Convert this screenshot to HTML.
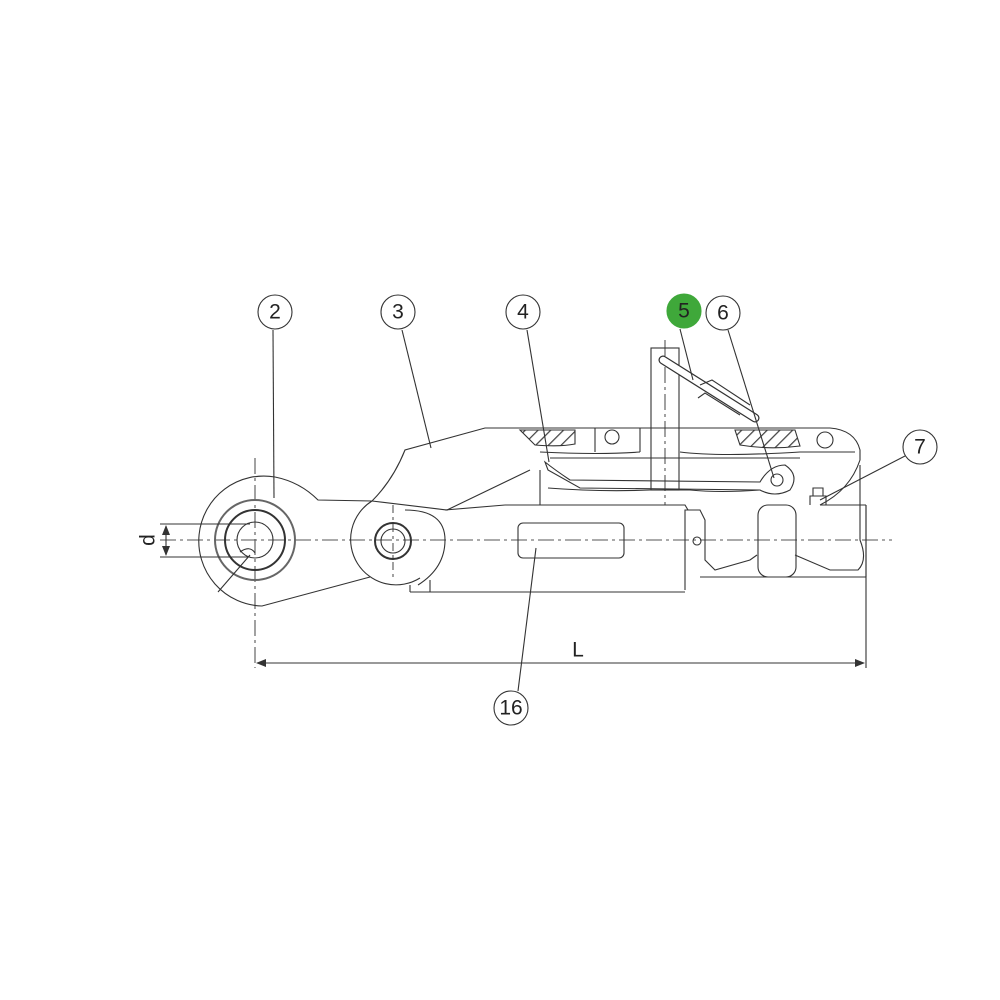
<!DOCTYPE html>
<html><head><meta charset="utf-8"><style>
html,body{margin:0;padding:0;background:#fff;}
svg{display:block}
text{font-family:"Liberation Sans",Arial,sans-serif;font-size:21px;fill:#222;text-anchor:middle;dominant-baseline:central}
</style></head><body>
<svg width="1000" height="1000" viewBox="0 0 1000 1000" xmlns="http://www.w3.org/2000/svg">
<defs>
<pattern id="hat" width="9" height="9" patternUnits="userSpaceOnUse" patternTransform="rotate(45)">
<rect width="9" height="9" fill="#fff"/><line x1="0" y1="0" x2="0" y2="9" stroke="#444" stroke-width="2.5"/></pattern>
</defs>
<g fill="none" stroke="#333" stroke-width="1.1">
<line x1="160" y1="540" x2="892" y2="540" stroke-dasharray="16,4,3,4" stroke="#555"/>
<line x1="255" y1="458" x2="255" y2="668" stroke-dasharray="16,4,3,4" stroke="#555"/>
<line x1="393" y1="505" x2="393" y2="578" stroke-dasharray="8,4,3,4" stroke="#555"/>
<line x1="665" y1="340" x2="665" y2="505" stroke-dasharray="16,4,3,4" stroke="#555"/>
<path d="M275,477 A65,65 0 1 0 262,606 L370,577"/>
<path d="M275,477 Q300,482 318,500 L372,501"/>
<circle cx="255" cy="540" r="40" stroke="#666" stroke-width="2"/>
<circle cx="255" cy="540" r="30" stroke-width="2"/>
<circle cx="255" cy="540" r="18"/>
<path d="M240,552 Q250,545 255,553"/>
<line x1="218" y1="592" x2="250" y2="555"/>
<path d="M372,501 Q393,480 405,450 L485,428 L520,428"/>
<path d="M530,470 L447,510 L372,501"/>
<path d="M372,501 A38,38 0 1 0 420,578"/>
<circle cx="393" cy="541" r="18" stroke-width="2"/>
<circle cx="393" cy="541" r="12"/>
<path d="M405,510 Q445,510 445,540 Q445,568 418,585"/>
<path d="M505,505 L685,505 L688,510 L685,510 L685,590 M505,505 L445,510"/>
<line x1="410" y1="592" x2="685" y2="592"/>
<line x1="430" y1="580" x2="430" y2="592"/>
<line x1="410" y1="585" x2="410" y2="592"/>
<rect x="518" y="523" width="106" height="35" rx="5"/>
<line x1="540" y1="470" x2="540" y2="505"/>
<path d="M485,428 L830,428 Q855,430 860,450 L860,460 Q850,490 820,505"/>
<path d="M520,430 L575,430 L575,444 Q560,447 535,445 Z" fill="url(#hat)"/>
<path d="M735,430 L795,430 L800,446 Q770,450 740,445 Z" fill="url(#hat)"/>
<line x1="595" y1="428" x2="595" y2="452"/>
<line x1="640" y1="428" x2="640" y2="452"/>
<circle cx="612" cy="437" r="7"/>
<circle cx="825" cy="440" r="8"/>
<path d="M540,452 Q600,455 640,452 M680,452 Q720,457 800,452 L855,452"/>
<path d="M550,458 L765,458 L800,458"/>
<path d="M545,462 Q555,470 570,480 L760,482 Q770,465 785,465 Q800,475 790,490 Q775,498 760,490 L580,488 L548,470 Z"/>
<circle cx="777" cy="480" r="6"/>
<path d="M548,488 Q600,492 650,490 L690,490 Q720,493 760,490"/>
<path d="M685,510 L700,510 L705,520 L705,560 L715,570 L750,560 L757,555"/>
<path d="M795,555 L830,570 L858,570 Q868,560 860,540 L860,465"/>
<rect x="758" y="505" width="38" height="72" rx="10"/>
<line x1="700" y1="577" x2="866" y2="577"/>
<line x1="866" y1="505" x2="866" y2="577"/>
<line x1="820" y1="505" x2="866" y2="505"/>
<circle cx="697" cy="541" r="4"/>
<path d="M810,505 L810,496 L826,496 L826,505 M813,496 L813,488 L823,488 L823,496"/>
<rect x="651" y="348" width="28" height="142"/>
<path d="M663,360 L755,418" stroke-width="9" stroke-linecap="round"/>
<path d="M663,360 L755,418" stroke-width="6.5" stroke="#fff" stroke-linecap="round"/>
<path d="M700,385 L712,380 L750,405 M698,398 L705,393 L740,415"/>
<line x1="866" y1="505" x2="866" y2="668"/>
<line x1="257" y1="663" x2="864" y2="663"/>
<line x1="160" y1="524" x2="250" y2="524"/>
<line x1="160" y1="557" x2="250" y2="557"/>
<line x1="166" y1="526" x2="166" y2="555"/>
<line x1="273" y1="330" x2="274" y2="498"/>
<line x1="402" y1="330" x2="431" y2="448"/>
<line x1="527" y1="330" x2="549" y2="462"/>
<line x1="680" y1="329" x2="693" y2="380"/>
<line x1="728" y1="330" x2="774" y2="478"/>
<line x1="905" y1="456" x2="820" y2="500"/>
<line x1="518" y1="691" x2="536" y2="548"/>
<circle cx="275" cy="312" r="17" fill="#fff"/>
<circle cx="398" cy="312" r="17" fill="#fff"/>
<circle cx="523" cy="312" r="17" fill="#fff"/>
<circle cx="684" cy="311" r="17" fill="#3fa83a" stroke="#3fa83a"/>
<circle cx="723" cy="313" r="17" fill="#fff"/>
<circle cx="920" cy="447" r="17" fill="#fff"/>
<circle cx="511" cy="708" r="17" fill="#fff"/>
</g>
<path d="M256,663 l10,-4 l0,8 Z M865,663 l-10,-4 l0,8 Z M166,525 l-4,10 l8,0 Z M166,556 l-4,-10 l8,0 Z" fill="#333"/>
<text x="275" y="312">2</text>
<text x="398" y="312">3</text>
<text x="523" y="312">4</text>
<text x="684" y="311">5</text>
<text x="723" y="313">6</text>
<text x="920" y="447">7</text>
<text x="511" y="708">16</text>
<text x="578" y="650">L</text>
<text x="148" y="540" transform="rotate(-90 148 540)">d</text>
</svg>
</body></html>
